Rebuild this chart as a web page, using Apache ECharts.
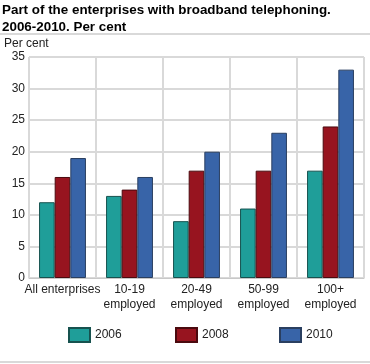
<!DOCTYPE html>
<html><head><meta charset="utf-8">
<script src="https://cdn.jsdelivr.net/npm/echarts@6/dist/echarts.min.js"></script>
<style>html,body{margin:0;padding:0;background:#fff}#c{width:370px;height:364px}</style>
</head><body><div id="c"></div>
<script>
const categories = ['All enterprises', '10-19\nemployed', '20-49\nemployed', '50-99\nemployed', '100+\nemployed'];
const seriesNames = ['2006', '2008', '2010'];
const values2006 = [12, 13, 9, 11, 17];
const values2008 = [16, 14, 17, 17, 24];
const values2010 = [19, 16, 20, 23, 33];
const yTicks = [0, 5, 10, 15, 20, 25, 30, 35];

const colors = ['#1f9e99', '#97141f', '#3864a8'];
const borders = ['#17524f', '#4a0a0f', '#2a3f60'];
const data = [values2006, values2008, values2010];
const font = 'Liberation Sans, Arial, sans-serif';

const chart = echarts.init(document.getElementById('c'), null, {renderer: 'canvas'});
chart.setOption({
  animation: false,
  textStyle: {fontFamily: font},
  title: {
    text: 'Part of the enterprises with broadband telephoning.\n2006-2010. Per cent',
    left: 2, top: 2, padding: 0,
    textStyle: {fontSize: 13.4, fontWeight: 'bold', color: '#000', lineHeight: 17, fontFamily: font}
  },
  graphic: [
    {type: 'rect', shape: {x: 0, y: 33, width: 370, height: 2}, style: {fill: '#d9d9d9'}},
    {type: 'rect', shape: {x: 0, y: 361, width: 370, height: 2}, style: {fill: '#d9d9d9'}},
    {type: 'text', left: 4, top: 38, style: {text: 'Per cent', fontSize: 12, fill: '#222', fontFamily: font}}
  ],
  legend: seriesNames.map((n, i) => ({
    data: [n],
    left: [68, 175, 279][i], top: 327, padding: 0,
    itemWidth: 21, itemHeight: 14, itemGap: 4,
    icon: 'rect',
    textStyle: {fontSize: 12, color: '#222', fontFamily: font}
  })),
  grid: {left: 29, right: 6, top: 57, bottom: 86, containLabel: false},
  xAxis: {
    type: 'category', data: categories,
    axisTick: {show: false},
    axisLine: {lineStyle: {color: '#c8c8c8'}},
    splitLine: {show: true, interval: 0, lineStyle: {color: '#d9d9d9', width: 2}},
    axisLabel: {interval: 0, fontSize: 12, color: '#222', lineHeight: 15, margin: 4, fontFamily: font}
  },
  yAxis: {
    type: 'value', min: 0, max: 35, interval: 5,
    axisLine: {show: false}, axisTick: {show: false},
    splitLine: {lineStyle: {color: '#d9d9d9', width: 2}},
    axisLabel: {fontSize: 12, color: '#222', margin: 4, fontFamily: font,
      formatter: v => yTicks.includes(v) ? String(v) : ''}
  },
  series: seriesNames.map((n, i) => ({
    name: n, type: 'bar', data: data[i],
    barGap: '0%', barCategoryGap: '30%',
    itemStyle: {color: colors[i], borderColor: borders[i], borderWidth: 1}
  }))
});
</script></body></html>
